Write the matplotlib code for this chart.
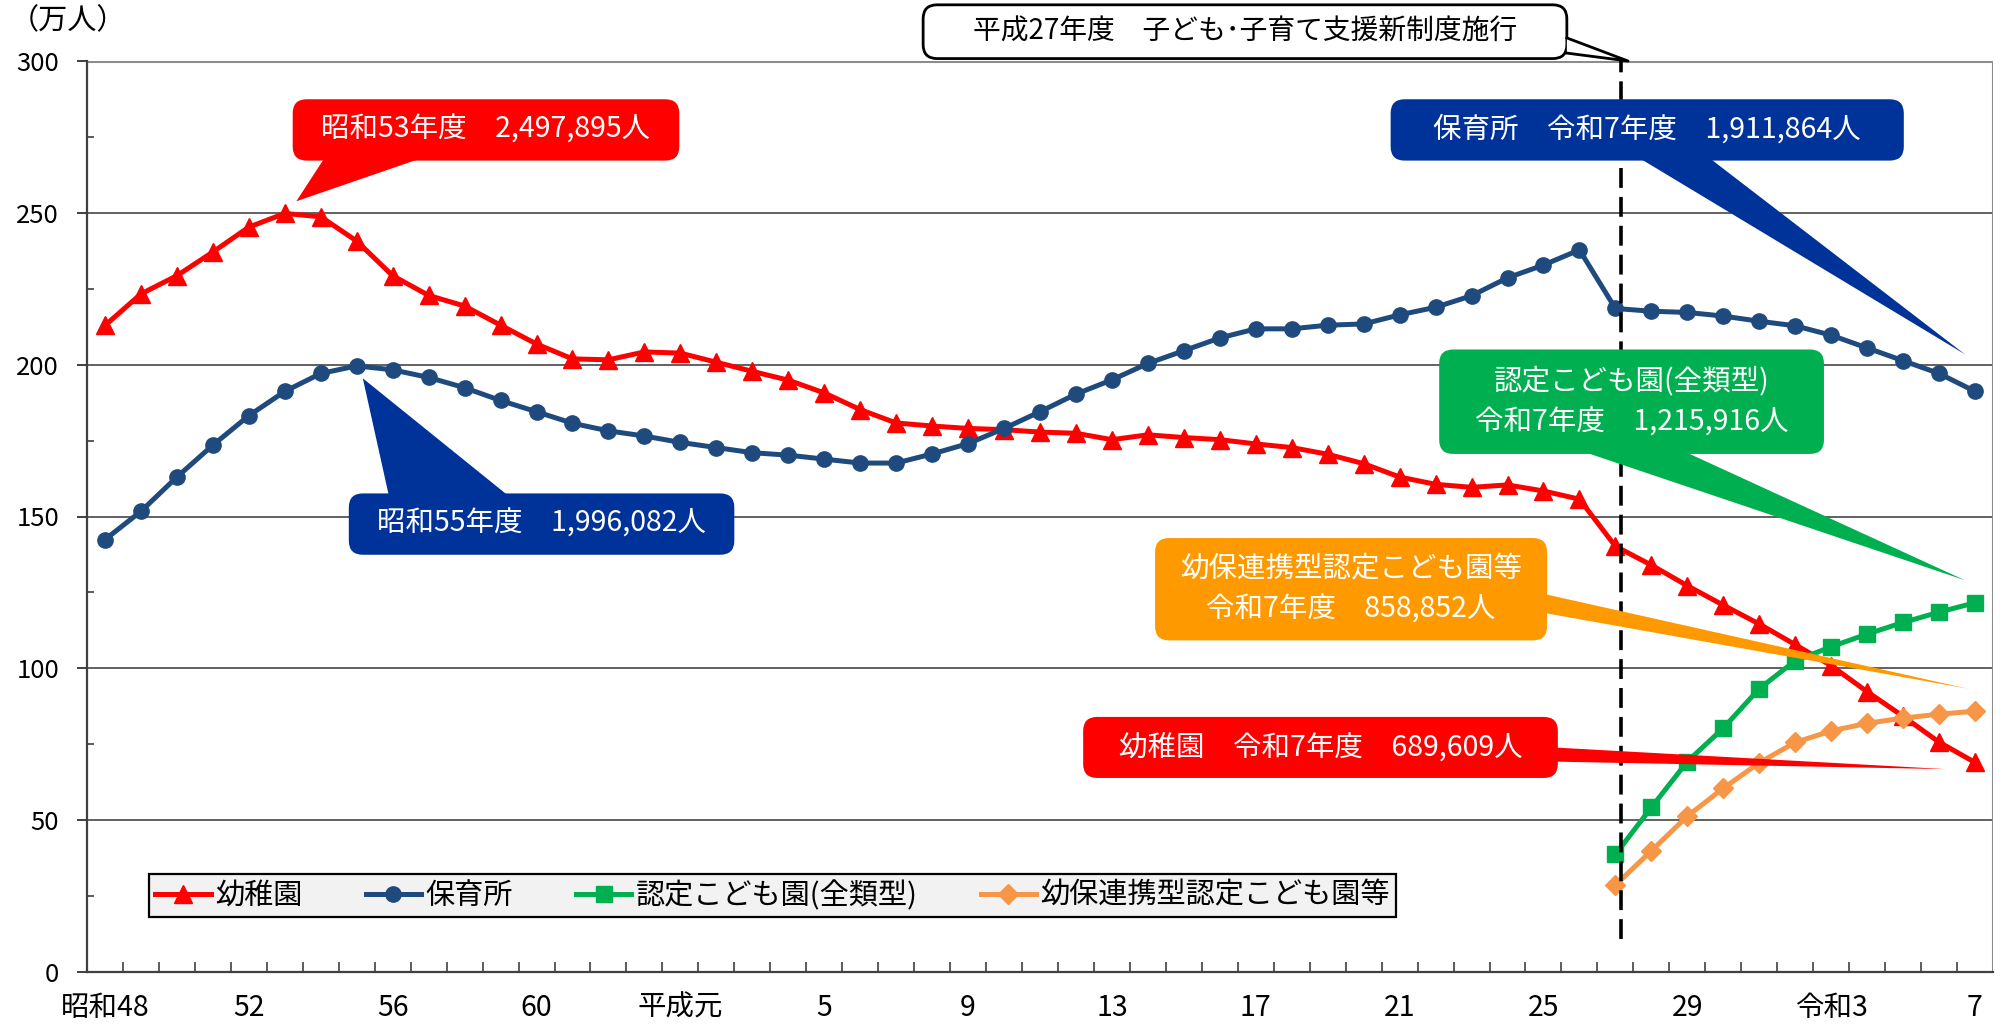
import matplotlib
matplotlib.use("Agg")
import matplotlib.pyplot as plt
import numpy as np
from matplotlib.lines import Line2D
from matplotlib.patches import FancyBboxPatch, Polygon

plt.rcParams["font.family"] = ["Noto Sans CJK JP", "DejaVu Sans"]

# 昭和48年度(1973) ... 令和7年度(2025), values in 万人
kindergarten = [
    212.9, 223.3, 229.3, 237.1, 245.3, 249.8, 248.7, 240.7, 229.3, 222.8,
    219.3, 213.0, 206.8, 201.9, 201.6, 204.2, 203.8, 200.8, 197.8, 194.9,
    190.7, 185.2, 180.8, 179.8, 179.0, 178.6, 177.8, 177.4, 175.3, 176.9,
    176.0, 175.3, 173.9, 172.7, 170.5, 167.4, 163.0, 160.6, 159.6, 160.4,
    158.4, 155.7, 140.2, 134.0, 127.2, 120.8, 114.6, 107.8, 100.9, 92.3,
    84.2, 75.7, 69.0,
]
nursery = [
    142.4, 151.7, 163.0, 173.5, 183.2, 191.2, 197.1, 199.6, 198.3, 195.8,
    192.4, 188.2, 184.5, 180.7, 178.2, 176.5, 174.4, 172.7, 171.0, 170.2,
    168.9, 167.6, 167.6, 170.6, 174.0, 179.0, 184.5, 190.3, 195.0, 200.4,
    204.6, 208.8, 211.8, 211.8, 213.0, 213.4, 216.4, 218.9, 222.7, 228.6,
    232.8, 237.8, 218.5, 217.6, 217.2, 216.0, 214.3, 212.8, 209.7, 205.5,
    201.3, 197.1, 191.2,
]
kodomoen_all = [38.7, 54.2, 69.3, 80.3, 93.3, 102.5, 107.1, 111.3, 115.1, 118.5, 121.6]
kodomoen_renkei = [28.6, 39.9, 51.3, 60.5, 68.9, 75.6, 79.4, 81.9, 83.6, 84.9, 85.9]
kodomoen_start = 42  # 平成27年度
reform_index = 42    # 平成27年度 子ども・子育て支援新制度施行

tick_labels = ["昭和48", "52", "56", "60", "平成元", "5", "9", "13", "17",
               "21", "25", "29", "令和3", "7"]
series_names = ["幼稚園", "保育所", "認定こども園(全類型)", "幼保連携型認定こども園等"]

RED = "#ff0000"
BLUE_LINE = "#1f4a7e"
BLUE_BOX = "#003399"
GREEN = "#00b050"
ORANGE_LINE = "#f79646"
ORANGE_BOX = "#ff9900"

W, H = 2001, 1028
fig = plt.figure(figsize=(W / 100, H / 100), dpi=100)
ax = fig.add_axes([87 / W, 56 / H, 1906 / W, 911 / H])

x = np.arange(len(kindergarten))
x_new = np.arange(kodomoen_start, kodomoen_start + len(kodomoen_all))

ax.set_xlim(-0.5, len(kindergarten) - 0.5)
ax.set_ylim(0, 300)

# grid & frame
ax.set_yticks(np.arange(0, 301, 50))
ax.set_yticks(np.arange(25, 300, 50), minor=True)
for v in range(50, 300, 50):
    ax.axhline(v, color="#555555", lw=1.3, zorder=1)
ax.axhline(300, color="#8c8c8c", lw=2.2, zorder=1)
for side in ["top", "right"]:
    ax.spines[side].set_visible(False)
ax.axvline(len(kindergarten) - 0.5, color="#8c8c8c", lw=2.2, zorder=1)
ax.spines["left"].set_color("#404040")
ax.spines["left"].set_linewidth(1.6)
ax.spines["bottom"].set_color("#404040")
ax.spines["bottom"].set_linewidth(1.6)

ax.tick_params(axis="y", which="major", direction="out", length=7, width=1.4,
               color="#404040", labelsize=18.5, pad=13)
ax.tick_params(axis="y", which="minor", direction="in", length=5, width=1.2,
               color="#404040")
ax.set_xticks(np.arange(0, len(kindergarten), 4))
ax.set_xticklabels(tick_labels)
ax.set_xticks(np.arange(0.5, len(kindergarten) - 0.5, 1), minor=True)
ax.tick_params(axis="x", which="major", length=0, labelsize=20.5, pad=15)
ax.tick_params(axis="x", which="minor", direction="in", length=7, width=1.2,
               color="#404040")

# series
ax.plot(x, kindergarten, color=RED, lw=3.6, marker="^", ms=13, zorder=4,
        label=series_names[0])
ax.plot(x, nursery, color=BLUE_LINE, lw=3.6, marker="o", ms=11, zorder=4,
        label=series_names[1])
ax.plot(x_new, kodomoen_all, color=GREEN, lw=3.6, marker="s", ms=12, zorder=4,
        label=series_names[2])
ax.plot(x_new, kodomoen_renkei, color=ORANGE_LINE, lw=3.6, marker="D", ms=10,
        zorder=4, label=series_names[3])

ax.plot([reform_index + 0.15] * 2, [11, 300], color="black", lw=2.6,
        dashes=(5.5, 2.5), zorder=5, clip_on=False)

leg = ax.legend(loc="lower left", bbox_to_anchor=(0.0325, 0.06, 0.6545, 0.05),
                mode="expand", ncol=4, fontsize=21, frameon=True, fancybox=False,
                handlelength=1.9, handletextpad=0.15, borderpad=0.22,
                columnspacing=1.2, borderaxespad=0)
leg.get_frame().set_facecolor("#f2f2f2")
leg.get_frame().set_edgecolor("black")
leg.get_frame().set_linewidth(1.6)
leg.get_frame().set_alpha(1)

# callouts (data coordinates)
px_x = 1906 / 53
px_y = 911 / 300
aspect = px_x / px_y


def callout(x0, x1, y0, y1, pointer, fc, text, tc="white", ec=None, fs=20.5):
    r = 14 / px_x
    box = FancyBboxPatch((x0, y0), x1 - x0, y1 - y0,
                         boxstyle=f"round,pad=0,rounding_size={r}",
                         mutation_aspect=aspect, fc=fc,
                         ec=ec if ec else fc, lw=2 if ec else 0,
                         zorder=7, clip_on=False)
    ax.add_patch(box)
    ax.add_patch(Polygon(pointer, closed=True, fc=fc, ec="none", zorder=7.5,
                         clip_on=False))
    if ec:
        ax.add_line(Line2D([p[0] for p in pointer], [p[1] for p in pointer],
                           color=ec, lw=2, zorder=7.6, clip_on=False))
    ax.text((x0 + x1) / 2, (y0 + y1) / 2, text, color=tc, fontsize=fs,
            ha="center", va="center", zorder=8, linespacing=1.5)


callout(5.22, 15.97, 267.2, 287.4,
        [(6.1, 268), (5.32, 253.8), (8.8, 268)],
        RED, "昭和53年度　2,497,895人")
callout(6.78, 17.5, 137.4, 157.6,
        [(7.9, 156.5), (7.17, 195.5), (11.25, 156.5)],
        BLUE_BOX, "昭和55年度　1,996,082人")
callout(35.75, 50.02, 267.2, 287.4,
        [(42.67, 268), (51.72, 203.4), (44.62, 268)],
        BLUE_BOX, "保育所　令和7年度　1,911,864人")
callout(37.1, 47.8, 170.6, 205.0,
        [(41.07, 171.5), (51.72, 129.0), (43.9, 171.5)],
        GREEN, "認定こども園(全類型)\n令和7年度　1,215,916人")
callout(29.2, 40.1, 109.2, 142.9,
        [(39.9, 124.8), (51.8, 93.3), (39.9, 118.5)],
        ORANGE_BOX, "幼保連携型認定こども園等\n令和7年度　858,852人")
callout(27.2, 40.4, 63.9, 84.0,
        [(40.2, 74.0), (51.2, 66.8), (40.2, 69.3)],
        RED, "幼稚園　令和7年度　689,609人")
callout(22.75, 40.65, 300.8, 318.5,
        [(40.65, 307.6), (reform_index + 0.35, 300.0), (40.65, 302.6)],
        "white", "平成27年度　子ども･子育て支援新制度施行", tc="black",
        ec="black", fs=20)

fig.text(10 / W, 1 - 6 / H, "（万人）", fontsize=21, ha="left", va="top")

fig.savefig("out.png", dpi=100)
